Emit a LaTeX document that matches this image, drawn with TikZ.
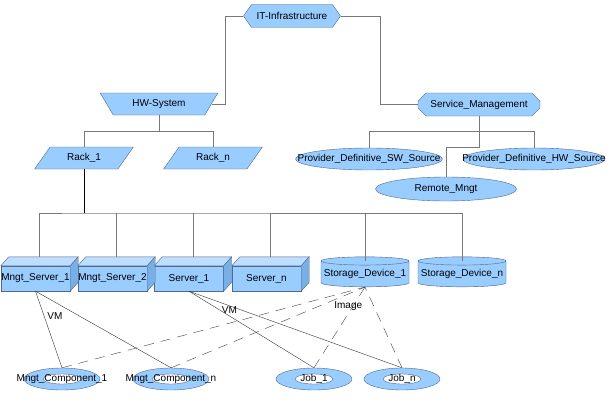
\documentclass[tikz,border=0pt]{standalone}
\usepackage{fontspec}
\setmainfont{Liberation Sans}
\usetikzlibrary{calc}
\usetikzlibrary{shapes.geometric,shapes.misc,shapes.symbols}
\definecolor{nodefill}{RGB}{153,204,255}
\definecolor{nodeline}{RGB}{80,105,140}
\definecolor{topfill}{RGB}{190,222,255}
\definecolor{sidefill}{RGB}{120,175,230}
\definecolor{linkgray}{RGB}{120,120,120}
\tikzset{
	base/.style={draw=nodeline, fill=nodefill, inner sep=0pt},
	hexbox/.style={base, signal, signal to=east and west, signal pointer angle=110, minimum width=97pt, minimum height=23pt},
	trapbox/.style={base, trapezium, trapezium stretches=true, shape border rotate=180, trapezium left angle=50, trapezium right angle=50, minimum width=118pt, minimum height=22pt},
	rackbox/.style={base, trapezium, trapezium stretches=true, trapezium left angle=50, trapezium right angle=130, minimum width=99pt, minimum height=22pt},
	octobox/.style={base, chamfered rectangle, chamfered rectangle xsep=5pt, minimum width=122pt, minimum height=23pt},
	oval/.style={base, ellipse, minimum width=#1, minimum height=22pt},
	ring/.style={draw=nodeline, fill=white, ellipse, inner sep=0pt, minimum width=38pt, minimum height=10pt},
	serverbox/.style={base, rectangle, minimum width=69pt, minimum height=25pt},
	topface/.style={draw=nodeline, fill=topfill},
	sideface/.style={draw=nodeline, fill=sidefill},
	storebox/.style={base, cylinder, shape border rotate=90, aspect=0.1, minimum width=88pt, minimum height=30pt, cylinder uses custom fill, cylinder body fill=nodefill, cylinder end fill=topfill},
	link/.style={draw=linkgray},
	rlink/.style={draw=black, line width=0.7pt},
	vmlink/.style={draw=black!80, line width=0.4pt},
	dep/.style={draw=black!75, line width=0.4pt, dash pattern=on 10pt off 7pt},
	tag/.style={inner sep=3pt}
}
% top face and side face of a server box
\newcommand{\boxfaces}[1]{%
	\filldraw[topface] (#1.north west) -- ++(8,9) -- ($(#1.north east)+(8,9)$) -- (#1.north east) -- cycle;
	\filldraw[sideface] (#1.north east) -- ++(8,9) -- ($(#1.south east)+(8,9)$) -- (#1.south east) -- cycle;
	\coordinate (#1top) at ($(#1.north)+(4,9)$);
}

\begin{document}
\begin{tikzpicture}[x=1pt, y=1pt, font=\fontsize{10}{12}\selectfont]
\useasboundingbox (0,0) rectangle (610,-404);

\node[hexbox] (itinfra) at (292,-16) {IT-Infrastructure};
\node[trapbox] (hwsys) at (159,-104) {HW-System};
\node[octobox] (servmgmt) at (479,-104.5) {Service\_Management};

\node[rackbox] (rack1) at (84,-158) {Rack\_1};
\node[rackbox] (rackn) at (213,-158) {Rack\_n};

\node[oval=147pt, label={center:Provider\_Definitive\_SW\_Source}] (provsw) at (369,-159) {};
\node[oval=142pt, label={center:Provider\_Definitive\_HW\_Source}] (provhw) at (534,-159) {};
\node[oval=141pt, minimum height=24pt] (remote) at (446,-189) {Remote\_Mngt};

\node[serverbox] (mserver1) at (35.5,-278.5) {Mngt\_Server\_1};
\node[serverbox] (mserver2) at (112.5,-278.5) {Mngt\_Server\_2};
\node[serverbox] (server1) at (189,-278.5) {Server\_1};
\node[serverbox] (servern) at (266.5,-278.5) {Server\_n};
\boxfaces{mserver1}
\boxfaces{mserver2}
\boxfaces{server1}
\boxfaces{servern}

\node[storebox] (storage1) at (365,-274) {Storage\_Device\_1};
\node[storebox] (storagen) at (462,-274) {Storage\_Device\_n};
\coordinate (storage1top) at ($(storage1.north)+(0,-4)$);
\coordinate (storagentop) at ($(storagen.north)+(0,-4)$);

\node[oval=76pt] (mcomp1) at (62,-379) {};
\node[oval=76pt] (mcompn) at (171,-379) {};
\node[oval=76pt] (job1) at (314,-379) {};
\node[oval=76pt] (jobn) at (402,-379) {};
\node[ring, label={center:Mngt\_Component\_1}] (mcomp1in) at (mcomp1) {};
\node[ring, label={center:Mngt\_Component\_n}] (mcompnin) at (mcompn) {};
\node[ring, label={center:Job\_1}] (job1in) at (job1) {};
\node[ring, label={center:Job\_n}] (jobnin) at (jobn) {};

% tree
\draw[link] (itinfra.west) -- ++(-18,0) |- (hwsys.east);
\draw[link] (itinfra.east) -- ++(39,0) |- (servmgmt.west);

\draw[link] (hwsys.south) -- ++(0,-16) coordinate (hwbus);
\draw[link] (rack1.north) |- (hwbus) -| (rackn.north);

\draw[link] (servmgmt.south) -- ++(0,-15) coordinate (smbus);
\draw[link] (provsw.north) |- (smbus) -| (provhw.north);
\draw[link] (smbus) -- ++(0,-16) -| (remote.north);

\coordinate (rbus) at (rack1.center |- 0,-213);
\draw[link] (mserver1top) |- (rbus) -| (storagentop);
\foreach \n in {mserver2,server1,servern,storage1}
	\draw[link] (\n top) -- (\n top |- rbus);
\draw[rlink] (rack1.center |- rack1.south) -- (rbus);

% deployment
\draw[vmlink] (mserver1.south) -- node[tag, pos=0.33, right] {VM} (mcomp1.north);
\draw[vmlink] (mserver1.south) -- (mcompn.north);
\draw[vmlink] (server1.south) -- (job1.north);
\draw[vmlink] (server1.south) -- node[tag, pos=0.24, left] {VM} (jobn.north);

\draw[dep] (mcomp1.north) -- (storage1.south);
\draw[dep] (mcompn.north) -- (storage1.south);
\draw[dep] (job1.north) -- node[tag, pos=0.77, xshift=-5pt] {Image} (storage1.south);
\draw[dep] (jobn.north) -- (storage1.south);

\end{tikzpicture}
\end{document}
